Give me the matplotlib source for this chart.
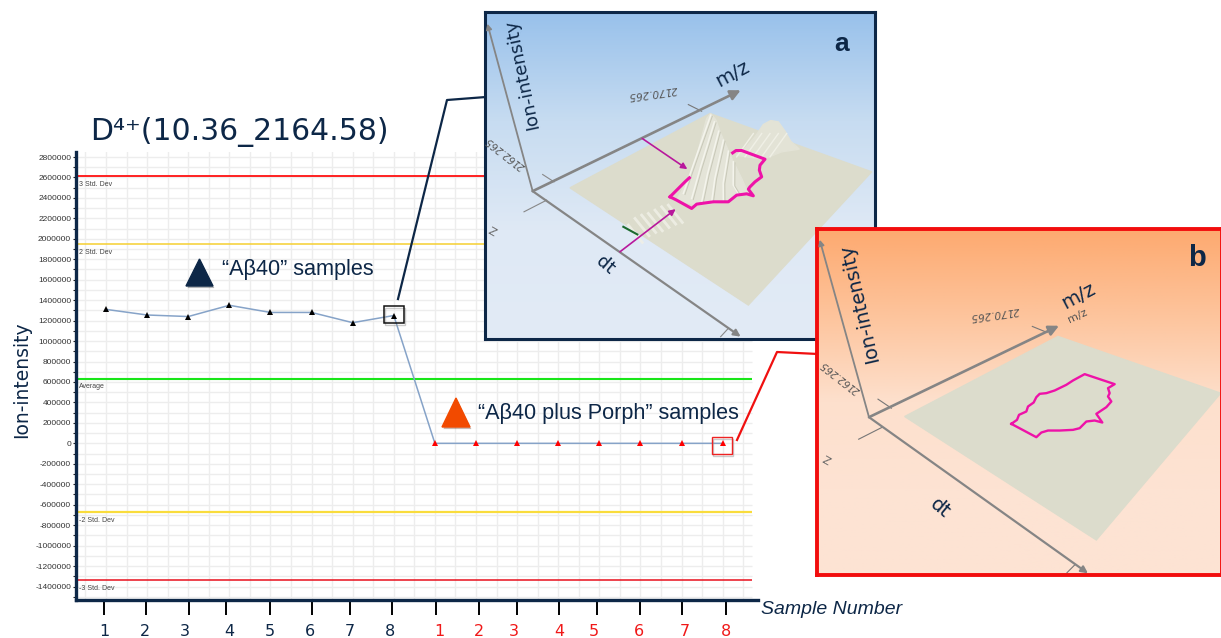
"""Ion-intensity control chart with the two 3D insets."""
import matplotlib
matplotlib.use("Agg")
import matplotlib.pyplot as plt
import matplotlib.patheffects as pe
from matplotlib.colors import LinearSegmentedColormap
from matplotlib.patches import Polygon, Rectangle
from matplotlib.ticker import FuncFormatter
import numpy as np

W, H = 1221, 638
NAVY = "#0d2747"
SANS = ["Liberation Sans", "DejaVu Sans"]

# series
samples_1 = [1, 2, 3, 4, 5, 6, 7, 8]
intensity_1 = [1310000, 1255000, 1240000, 1350000, 1280000, 1280000, 1180000, 1250000]
samples_2 = [9, 10, 11, 12, 13, 14, 15, 16]
intensity_2 = [0, 0, 0, 0, 0, 0, 0, 0]

# reference lines
ref_values = [2612000, 1950000, 634000, -675000, -1335000]
ref_colors = ["#ff1010", "#f5cf30", "#19e619", "#f9dc3c", "#e8101c"]
ref_widths = [1.3, 1.1, 1.5, 1.6, 1.1]
ref_labels = ["3 Std. Dev", "2 Std. Dev", "Average", "-2 Std. Dev", "-3 Std. Dev"]

y_ticks = list(range(-1400000, 2800001, 200000))
tick_names = ["1", "2", "3", "4", "5", "6", "7", "8"] * 2
# hand placed under the axis, so marks and digits sit a little off the samples
mark_pos = [0.95, 1.98, 3.03, 3.93, 4.98, 6.01, 6.94, 7.96,
            9.03, 10.08, 11.0, 12.02, 12.95, 14.0, 15.02, 16.07]
name_pos = [0.95, 1.95, 2.92, 4.01, 4.98, 5.96, 6.94, 7.91,
            9.1, 10.08, 10.93, 12.02, 12.87, 13.97, 15.09, 16.07]

# panel a, drawn in its own coordinates
a_plane = [(270, 548), (690, 325), (1175, 500), (805, 900)]
a_peak1 = [(590, 585), (615, 540), (635, 505), (650, 455), (665, 395), (680, 340), (692, 325),
           (708, 345), (722, 385), (740, 425), (760, 470), (785, 520), (805, 565), (770, 575),
           (740, 590), (650, 600)]
a_peak2 = [(768, 450), (795, 430), (825, 395), (850, 358), (872, 346), (895, 350), (915, 378),
           (932, 408), (958, 432), (905, 440), (850, 462)]
a_contour = [(570, 575), (590, 555), (600, 545), (615, 530), (628, 518)]
a_contour2 = [(758, 443), (768, 436), (785, 436), (855, 462), (840, 480), (838, 495), (845, 515),
              (825, 530), (810, 545), (805, 552), (820, 572), (800, 566), (770, 570), (745, 590),
              (700, 590), (650, 597), (635, 610), (590, 585), (570, 575)]
a_ridge_tops = [(692, 330), (703, 350), (716, 378), (730, 405), (745, 438), (760, 470)]
a_ridge_ends = [(610, 565), (635, 580), (665, 590), (695, 590), (730, 585), (775, 565)]
a_ripples = [(445, 660), (465, 640), (485, 630), (505, 625), (525, 615), (545, 605), (565, 600)]

# panel b
b_plane = [(285, 590), (745, 350), (1233, 520), (860, 960)]
b_contour = [(605, 612), (622, 600), (628, 585), (650, 575), (655, 560), (672, 548), (680, 532),
             (690, 522), (710, 520), (735, 512), (770, 495), (790, 482), (825, 463), (915, 493),
             (895, 505), (900, 520), (895, 530), (905, 545), (890, 562), (860, 582), (878, 608),
             (855, 602), (830, 605), (810, 625), (790, 630), (750, 632), (715, 632), (695, 638),
             (680, 652), (605, 612)]


def gradient(ax, stops, extent):
    cmap = LinearSegmentedColormap.from_list("bg", stops)
    ax.imshow(np.linspace(0, 1, 256).reshape(-1, 1), cmap=cmap, aspect="auto",
              extent=extent, zorder=0, interpolation="bilinear")


def gray_arrow(ax, start, end, width=1.6, head=11):
    ax.annotate("", xy=end, xytext=start,
                arrowprops=dict(arrowstyle="-|>", color="#858585", lw=width,
                                mutation_scale=head, shrinkA=0, shrinkB=0))


def panel_axes(fig, left, top, right, bottom, xlim, ylim, color, lw, z):
    ax = fig.add_axes([left / W, 1 - bottom / H, (right - left) / W, (bottom - top) / H],
                      zorder=z)
    ax.set_xticks([])
    ax.set_yticks([])
    for s in ax.spines.values():
        s.set_color(color)
        s.set_linewidth(lw)
    ax.set_xlim(*xlim)
    ax.set_ylim(*ylim)
    return ax


def axis_furniture(ax, o, ion_end, mz_end, dt_end):
    gray_arrow(ax, o, ion_end, 1.3, 8)
    gray_arrow(ax, o, mz_end, 1.9, 15)
    gray_arrow(ax, o, dt_end, 1.6, 10)


fig = plt.figure(figsize=(W / 100, H / 100), dpi=100)

# main chart
ax = fig.add_axes([76 / W, 1 - 600 / H, (758 - 76) / W, (600 - 152) / H], zorder=1)
x_end = 16.72
ax.set_xlim(0.27, 16.86)
ax.set_ylim(-1532000, 2849000)
for v in np.arange(-1500000, 2800001, 100000):
    ax.hlines(v, 0.27, x_end, color="#ededed", lw=1.0, zorder=1)
for v in np.arange(0.5, 16.6, 0.5):
    ax.axvline(v, color="#ededed", lw=1.0, zorder=1)
for v, c, lw, name in zip(ref_values, ref_colors, ref_widths, ref_labels):
    ax.hlines(v, 0.27, x_end, color=c, lw=lw, zorder=2)
    ax.annotate(name, (0.27, v), xytext=(2, -6), textcoords="offset points",
                fontsize=5, color="#444444", family=SANS, va="center")
ax.plot(samples_1 + samples_2, intensity_1 + intensity_2, color="#86a3c8", lw=1.1, zorder=3)
ax.plot(samples_1, intensity_1, "^", color="black", ms=3.8, mew=0, zorder=4)
ax.plot(samples_2, intensity_2, "^", color="#ff0000", ms=3.8, mew=0, zorder=4)

for side in ("top", "right"):
    ax.spines[side].set_visible(False)
for side in ("left", "bottom"):
    ax.spines[side].set_color(NAVY)
    ax.spines[side].set_linewidth(2.4)
ax.set_yticks(y_ticks)
ax.set_yticks(np.arange(-1500000, 2800001, 200000), minor=True)
ax.yaxis.set_major_formatter(FuncFormatter(lambda v, _: f"{v:.0f}"))
ax.tick_params(axis="y", which="major", labelsize=6, labelcolor="#333333", length=2.5,
               width=0.8, color="#222222", pad=1)
ax.tick_params(axis="y", which="minor", length=2, width=0.8, color="#222222")
for lab in ax.get_yticklabels():
    lab.set_family(SANS)
ax.xaxis.remove_overlapping_locs = False
ax.set_xticks(name_pos, labels=tick_names)
ax.set_xticks(mark_pos, minor=True)
ax.tick_params(axis="x", which="major", length=0, pad=17, labelsize=11.5)
ax.tick_params(axis="x", which="minor", length=11, width=1.4)
for i, lab in enumerate(ax.get_xticklabels()):
    lab.set_color(NAVY if i < 8 else "#f01818")
    lab.set_family("DejaVu Sans")
for i, t in enumerate(ax.xaxis.get_minorticklines()):
    t.set_color("#3a4f6b" if i // 2 < 8 else "#f01818")

# text, boxes and connectors laid over the chart
top = fig.add_axes([0, 0, 1, 1], zorder=2)
top.set_xlim(0, W)
top.set_ylim(H, 0)
top.axis("off")
top.patch.set_alpha(0)
top.text(90, 132, "D⁴⁺(10.36_2164.58)", fontsize=21.5, color=NAVY,
         family="DejaVu Sans", va="center")
top.text(22, 380, "Ion-intensity", fontsize=13.5, color=NAVY, rotation=90,
         ha="center", va="center", family="DejaVu Sans")
top.text(761, 610, "Sample Number", fontsize=14, color=NAVY, style="italic",
         family=SANS, va="center")
top.text(222, 269, "“Aβ40” samples", fontsize=15.6, color=NAVY, family=SANS, va="center")
top.text(478, 414, "“Aβ40 plus Porph” samples", fontsize=15.6, color=NAVY, family=SANS,
         va="center")
shadow = [pe.withSimplePatchShadow(offset=(1, -1.5), alpha=0.3)]
top.add_patch(Polygon([(199.5, 259), (186, 286), (213, 286)], color=NAVY, path_effects=shadow))
top.add_patch(Polygon([(456, 398), (442, 427), (470, 427)], color="#f24a00", path_effects=shadow))
top.add_patch(Rectangle((385, 307.5), 20, 17, fill=False, ec="#999999", lw=1.0, alpha=0.5))
top.add_patch(Rectangle((384, 306), 20, 17, fill=False, ec="#111111", lw=1.1))
top.add_patch(Rectangle((713, 438.5), 20, 17, fill=False, ec="#999999", lw=1.0, alpha=0.5))
top.add_patch(Rectangle((712, 437), 20, 17, fill=False, ec="#ee2222", lw=1.0))
top.plot([398, 447, 486], [299, 100, 97], color=NAVY, lw=1.6)
top.plot([737, 777, 818], [440, 352, 354], color="#f01010", lw=1.6)

# panel a
pa = panel_axes(fig, 485, 12, 875, 339, (15, 1185), (1002, 20), NAVY, 2.2, 3)
gradient(pa, ["#98c1eb", "#c7dcf1", "#dfe9f5", "#e2ebf6"], (15, 1185, 1002, 20))
pa.add_patch(Polygon(a_plane, color="#dcdccc", zorder=1))
for x, y in a_ripples:
    pa.plot([x, x + 42], [y, y + 52], color="#f0f0e6", lw=2.0, alpha=0.85, zorder=2)
pa.plot([430, 472], [665, 688], color="#1c6a2e", lw=1.5, zorder=2)
pa.add_patch(Polygon(a_peak2, color="#e3e3d6", zorder=2))
for x in (790, 815, 840, 865, 890):
    pa.plot([x + 30, x - 20], [385, 455], color="#f0f0e6", lw=1.0, zorder=2.2)
pa.add_patch(Polygon(a_peak1, color="#e4e4d8", zorder=3))
for (x0, y0), (x1, y1) in zip(a_ridge_tops, a_ridge_ends):
    pa.plot([x0, (x0 + x1) / 2 - 8, x1], [y0, (y0 + y1) / 2 + 22, y1],
            color="#f4f4ec", lw=1.1, zorder=3.5)
    pa.plot([x0 + 5, (x0 + x1) / 2 - 3, x1 + 5], [y0 + 3, (y0 + y1) / 2 + 25, y1 + 3],
            color="#c8c8b8", lw=0.7, zorder=3.5)
pa.plot([p[0] for p in a_contour2], [p[1] for p in a_contour2], color="#ee12a8", lw=2.2, zorder=4)
pa.plot([p[0] for p in a_contour], [p[1] for p in a_contour], color="#ee12a8", lw=2.2, zorder=4)
for start, end in [((487, 400), (622, 492)), ((420, 740), (587, 612))]:
    pa.annotate("", xy=end, xytext=start, zorder=5,
                arrowprops=dict(arrowstyle="-|>", color="#b8189c", lw=1.2, mutation_scale=9,
                                shrinkA=0, shrinkB=0))
axis_furniture(pa, (158, 558), (22, 55), (782, 255), (782, 995))
pa.plot([188, 222], [508, 530], color="#888888", lw=0.8)
pa.plot([132, 200], [620, 585], color="#888888", lw=0.8)
pa.plot([625, 665], [298, 318], color="#777777", lw=0.8)
pa.plot([722, 745], [995, 970], color="#888888", lw=0.8)
pa.text(1085, 115, "a", fontsize=19, fontweight="bold", color=NAVY, family=SANS,
        ha="center", va="center")
pa.text(125, 205, "Ion-intensity", fontsize=13, color=NAVY, rotation=102,
        ha="center", va="center", family="DejaVu Sans")
pa.text(757, 205, "m/z", fontsize=14, color=NAVY, rotation=28, ha="center", va="center",
        family="DejaVu Sans")
pa.text(375, 780, "dt", fontsize=13, color=NAVY, rotation=-40, ha="center", va="center",
        family="DejaVu Sans")
pa.text(518, 262, "2170.265", fontsize=7.5, color="#555555", rotation=188, style="italic",
        ha="center", va="center", family="DejaVu Sans")
pa.text(78, 442, "2162.265", fontsize=7, color="#555555", rotation=142, style="italic",
        ha="center", va="center", family="DejaVu Sans")
pa.text(42, 670, "Z", fontsize=8, color="#666666", rotation=150, ha="center", va="center",
        family="DejaVu Sans")

# panel b
pb = panel_axes(fig, 817, 229, 1222, 575, (22, 1237), (1065, 28), "#f20d0d", 2.8, 4)
gradient(pb, ["#fda96f", "#fdc49c", "#fde0cd", "#fde3d3", "#fde3d3"], (22, 1237, 1065, 28))
pb.add_patch(Polygon(b_plane, color="#dcdccc", zorder=1))
pb.plot([p[0] for p in b_contour], [p[1] for p in b_contour], color="#ee12a8", lw=1.7, zorder=2)
axis_furniture(pb, (178, 592), (30, 60), (748, 318), (835, 1060))
pb.plot([205, 245], [538, 565], color="#777777", lw=0.8)
pb.plot([147, 218], [658, 622], color="#777777", lw=0.8)
pb.plot([668, 712], [320, 338], color="#777777", lw=0.8)
pb.plot([772, 795], [1058, 1035], color="#777777", lw=0.8)
pb.text(1163, 115, "b", fontsize=21, fontweight="bold", color=NAVY, family=SANS,
        ha="center", va="center")
pb.text(150, 250, "Ion-intensity", fontsize=14, color=NAVY, rotation=103,
        ha="center", va="center", family="DejaVu Sans")
pb.text(808, 230, "m/z", fontsize=14, color=NAVY, rotation=28, ha="center", va="center",
        family="DejaVu Sans")
pb.text(805, 288, "m/z", fontsize=8, color="#555555", rotation=25, ha="center", va="center",
        family="DejaVu Sans")
pb.text(390, 865, "dt", fontsize=14, color=NAVY, rotation=-40, ha="center", va="center",
        family="DejaVu Sans")
pb.text(555, 280, "2170.265", fontsize=7.5, color="#555555", rotation=188, style="italic",
        ha="center", va="center", family="DejaVu Sans")
pb.text(92, 470, "2162.265", fontsize=7, color="#555555", rotation=142, style="italic",
        ha="center", va="center", family="DejaVu Sans")
pb.text(55, 712, "Z", fontsize=8, color="#666666", rotation=150, ha="center", va="center",
        family="DejaVu Sans")

fig.savefig("out.png", dpi=100)
plt.close(fig)
